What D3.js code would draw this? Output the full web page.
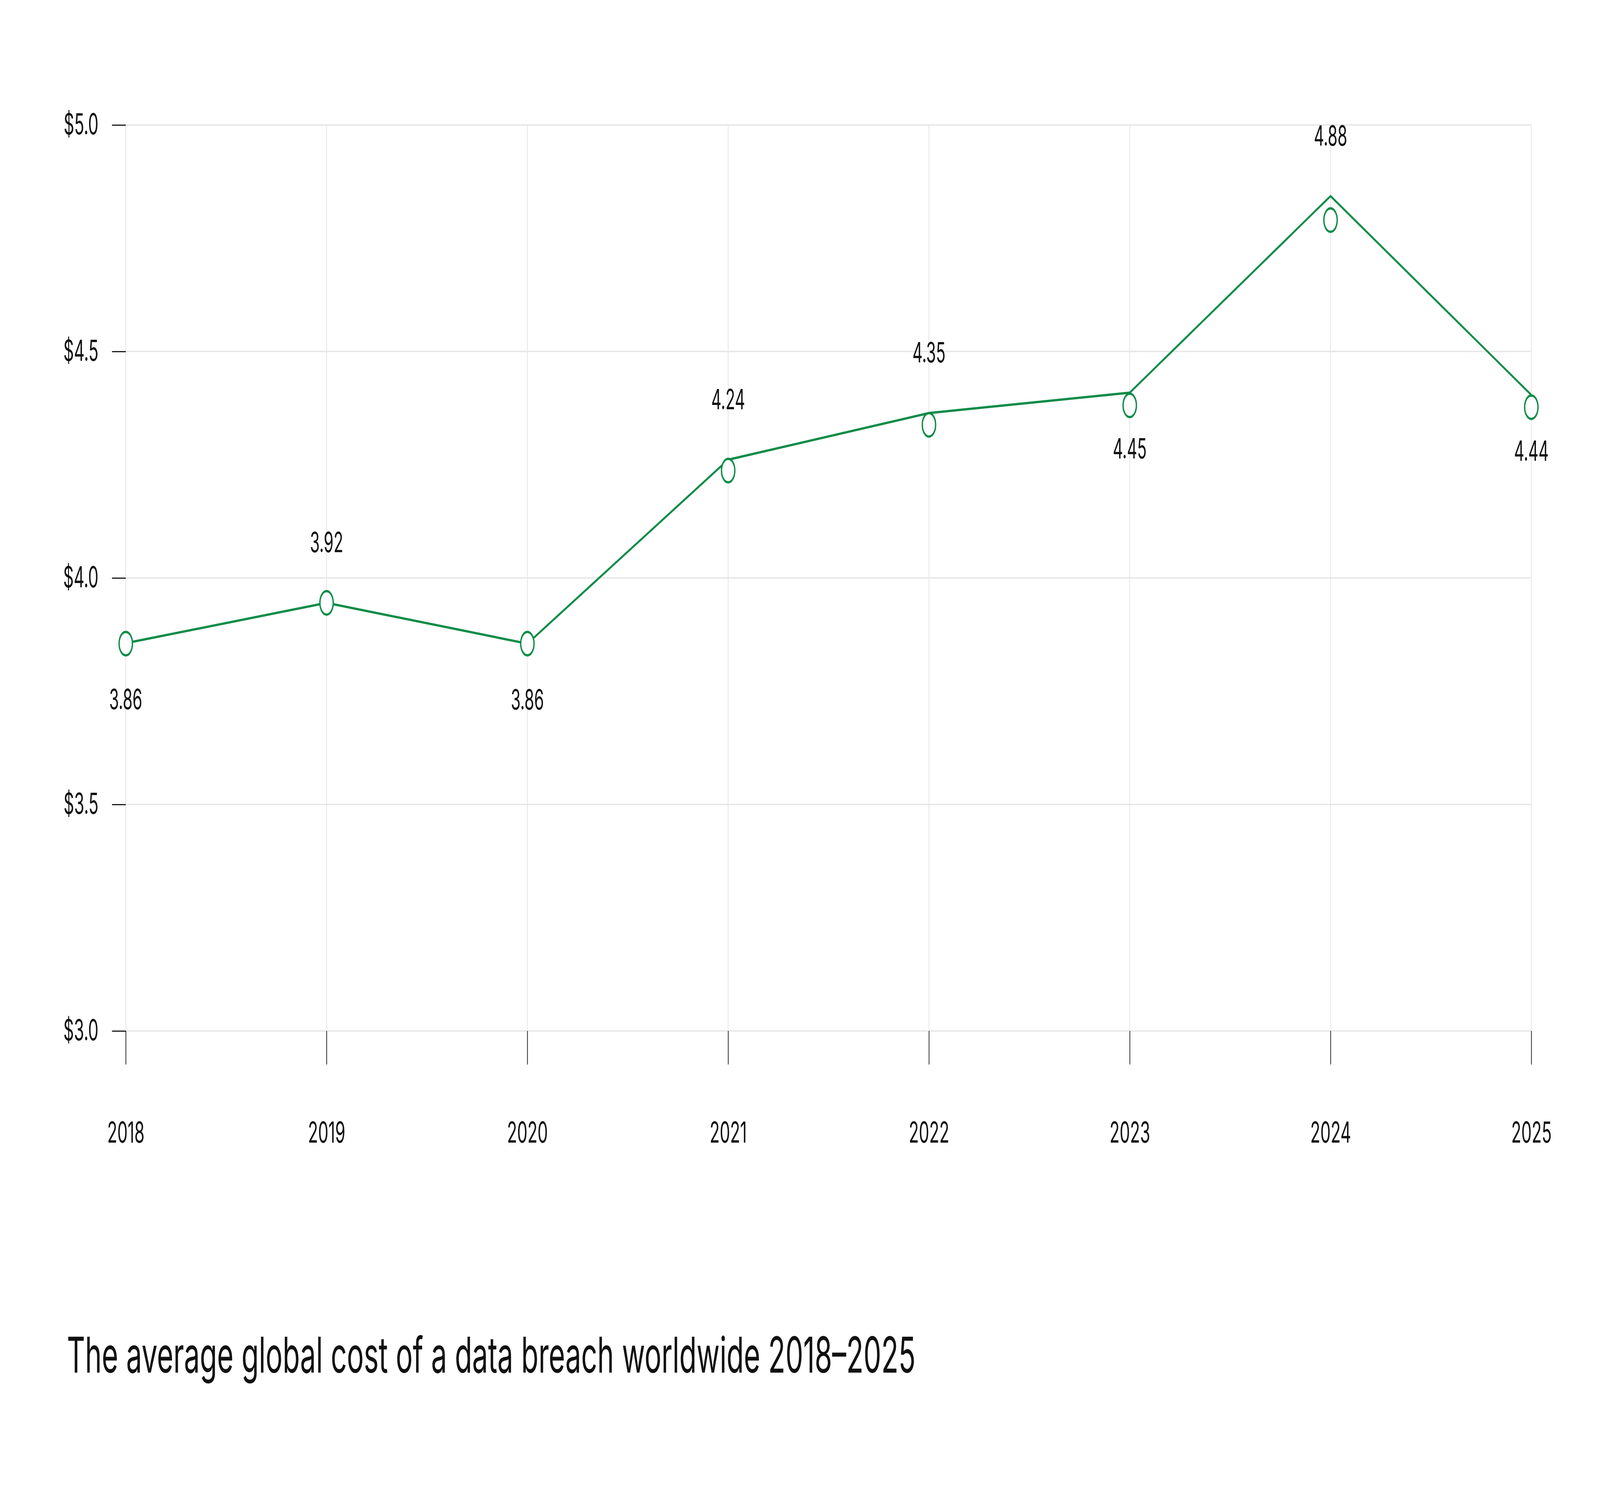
<!DOCTYPE html>
<html>
<head>
<meta charset="utf-8">
<script src="https://cdn.jsdelivr.net/npm/d3@7"></script>
<style>
  html, body { margin: 0; padding: 0; background: #fff; width: 100%; height: 100%; overflow: hidden; }
  svg { display: block; width: 100vw; height: 100vh; font-family: Inter, "Noto Sans", sans-serif; }
  .grid line { stroke: #e6e6e6; stroke-width: 3.5; }
  .axis path { display: none; }
  .axis line { stroke: #1a1a1a; stroke-width: 3.2; }
  .axis text { fill: #111; font-size: 74px; font-family: Inter, "Noto Sans", sans-serif; }
  .label { fill: #111; font-size: 71px; text-anchor: middle; }
</style>
</head>
<body>
<svg id="chart" viewBox="0 0 7200 3813" preserveAspectRatio="none"></svg>
<script>
// data
var years = [2018, 2019, 2020, 2021, 2022, 2023, 2024, 2025];
var lineValues = [3.856, 3.945, 3.855, 4.261, 4.364, 4.409, 4.843, 4.404];
var markerValues = [3.855, 3.945, 3.855, 4.237, 4.338, 4.381, 4.79, 4.377];
var valueLabels = ['3.86', '3.92', '3.86', '4.24', '4.35', '4.45', '4.88', '4.44'];
var labelSide = ['below', 'above', 'below', 'above', 'above', 'below', 'above', 'below'];
var yTicks = [3.0, 3.5, 4.0, 4.5, 5.0];
var title = 'The average global cost of a data breach worldwide 2018\u20132025';

const green = '#0b8c47';

var svg = d3.select('#chart');

var x = d3.scalePoint().domain(years).range([566, 6891]);
var y = d3.scaleLinear().domain([3, 5]).range([2640, 320]);

var points = years.map(function (year, i) {
  return {
    year: year,
    line: lineValues[i],
    marker: markerValues[i],
    label: valueLabels[i],
    side: labelSide[i]
  };
});

renderGrid();
renderAxes();
renderSeries();
renderTitle();

function renderGrid() {
  var grid = svg.append('g').classed('grid', true);
  grid.selectAll('.h')
    .data(yTicks)
    .enter()
    .append('line')
    .classed('h', true)
    .attr('x1', x.range()[0])
    .attr('x2', x.range()[1])
    .attr('y1', y)
    .attr('y2', y);
  grid.selectAll('.v')
    .data(years)
    .enter()
    .append('line')
    .classed('v', true)
    .attr('x1', x)
    .attr('x2', x)
    .attr('y1', y(5))
    .attr('y2', y(3));
}

function renderAxes() {
  svg.append('g')
    .classed('axis', true)
    .attr('transform', `translate(${x.range()[0]},0)`)
    .call(d3.axisLeft(y)
      .tickValues(yTicks)
      .tickSize(62)
      .tickPadding(61)
      .tickFormat(function (d) { return '$' + d.toFixed(1); }));

  svg.append('g')
    .classed('axis', true)
    .attr('transform', `translate(0,${y(3)})`)
    .call(d3.axisBottom(x)
      .tickSize(86)
      .tickPadding(147)
      .tickFormat(d3.format('d')));
}

function renderSeries() {
  var line = d3.line()
    .x(function (d) { return x(d.year); })
    .y(function (d) { return y(d.line); });

  svg.append('path')
    .datum(points)
    .attr('d', line)
    .attr('fill', 'none')
    .attr('stroke', green)
    .attr('stroke-width', 6)
    .attr('stroke-linejoin', 'miter');

  svg.selectAll('.marker')
    .data(points)
    .enter()
    .append('circle')
    .classed('marker', true)
    .attr('cx', function (d) { return x(d.year); })
    .attr('cy', function (d) { return y(d.marker); })
    .attr('r', 30)
    .attr('fill', '#fff')
    .attr('stroke', green)
    .attr('stroke-width', 6);

  svg.selectAll('.label')
    .data(points)
    .enter()
    .append('text')
    .classed('label', true)
    .attr('x', function (d) { return x(d.year); })
    .attr('y', getLabelY)
    .attr('dy', '0.36em')
    .text(function (d) { return d.label; });
}

function renderTitle() {
  svg.append('text')
    .attr('x', 301)
    .attr('y', 3515)
    .attr('fill', '#111')
    .attr('font-size', 127)
    .text(title);
}

function getLabelY(d) {
  return d.side === 'above' ? y(d.line) - 155 : y(d.line) + 143;
}
</script>
</body>
</html>
